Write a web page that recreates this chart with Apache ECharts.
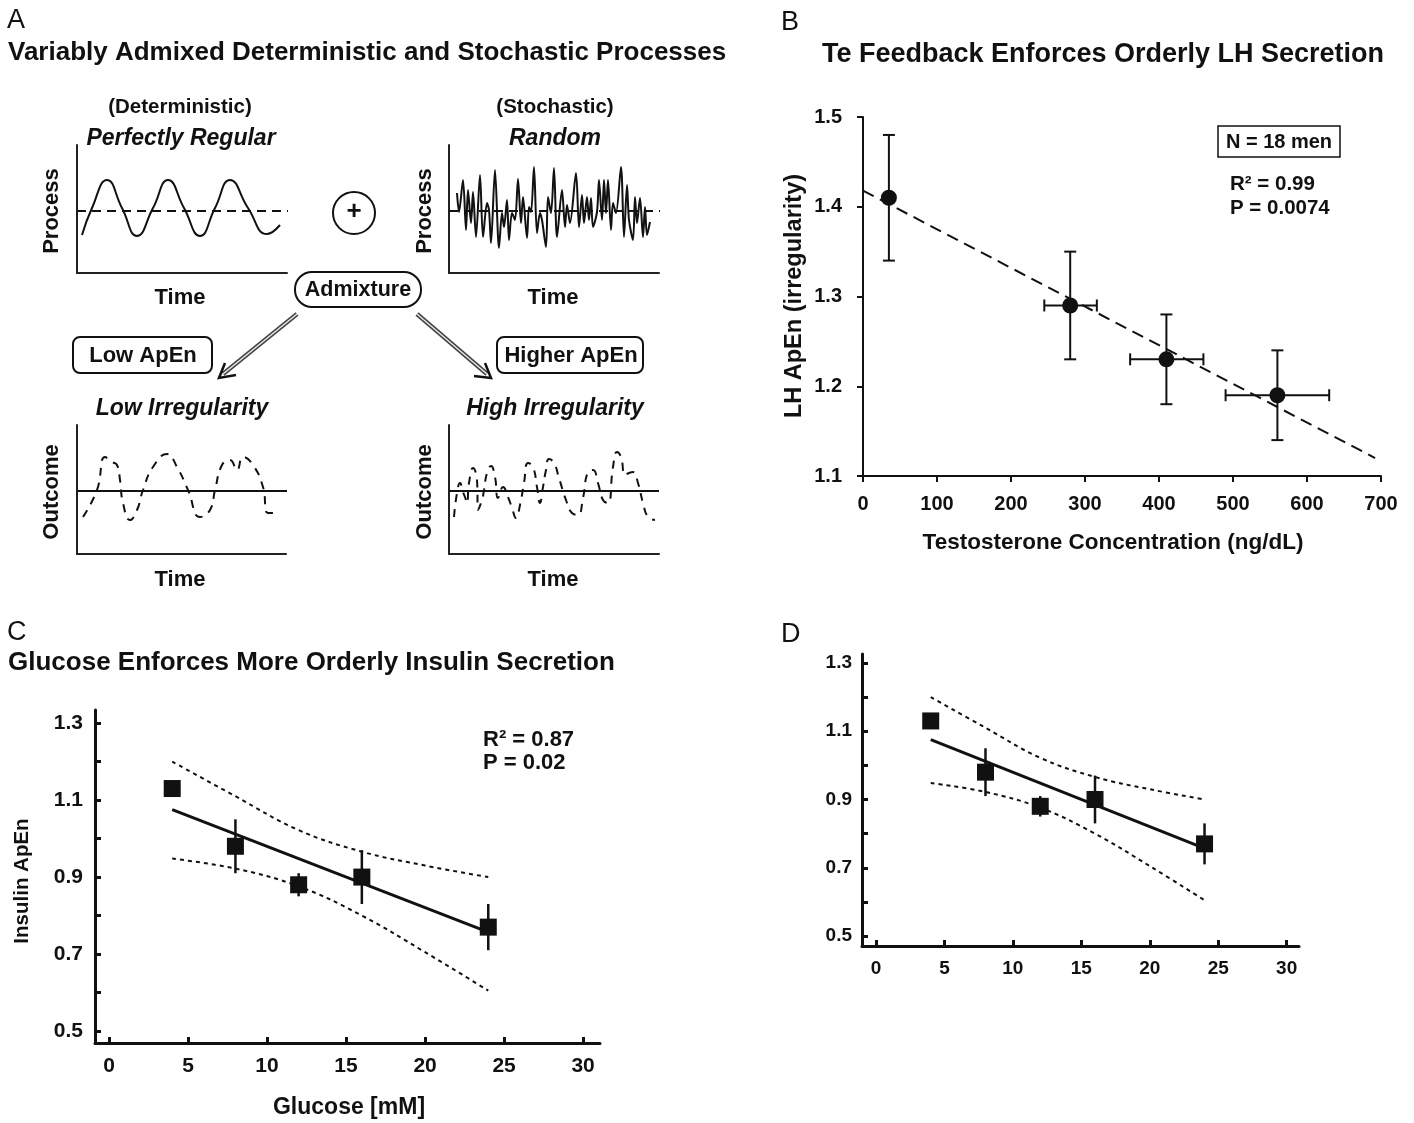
<!DOCTYPE html>
<html>
<head>
<meta charset="utf-8">
<title>ApEn figure</title>
<script src="https://cdn.jsdelivr.net/npm/echarts@6/dist/echarts.min.js"></script>
<style>
  html, body { margin: 0; padding: 0; background: #fff; }
  #chart { width: 1414px; height: 1123px; }
</style>
</head>
<body>
<div id="chart"></div>
<script>
// ---- panel A sketches (time / amplitude in arbitrary units)
var regularWave = [[5,38],[15,65],[30,93],[45,65],[60,37],[76,65],[91,93],[107,65],[123,37],[138,65],[153,93],[171,65],[190,39],[203,48]];
var regularMean = [[0,62],[216,62]];
var randomWave = [[8,80],[10,61],[14,93],[17,43],[19,83],[22,50],[24,81],[27,36],[31,98],[34,36],[38,70],[40,63],[42,30],[46,103],[50,25],[53,60],[55,46],[58,73],[60,33],[63,60],[66,53],[69,94],[72,50],[74,76],[78,35],[80,66],[82,61],[85,106],[88,40],[91,60],[93,53],[97,26],[99,76],[102,60],[105,105],[108,36],[113,83],[116,46],[118,68],[121,50],[127,100],[130,46],[133,78],[135,50],[138,76],[140,53],[142,75],[144,46],[148,61],[150,93],[153,53],[155,93],[157,60],[159,93],[162,43],[164,70],[167,60],[172,106],[175,36],[178,88],[180,53],[184,33],[186,76],[188,50],[191,75],[194,36],[196,66],[198,38],[201,51]];
var randomMean = [[0,62],[212,62]];
var lowIrregWave = [[6,37],[20,64],[28,97],[35,92],[40,89],[43,74],[46,51],[53,34],[60,44],[66,64],[76,87],[90,100],[100,87],[111,64],[123,37],[133,44],[138,64],[145,89],[153,94],[160,84],[166,97],[176,89],[186,67],[191,41],[200,41]];
var highIrregWave = [[5,37],[8,61],[11,71],[14,62],[16,57],[18,51],[20,71],[24,86],[28,74],[29,44],[33,54],[35,64],[38,81],[42,88],[46,77],[49,56],[54,67],[59,57],[63,46],[67,36],[71,49],[75,71],[79,91],[84,87],[88,67],[91,51],[94,67],[97,84],[100,95],[105,91],[110,76],[117,54],[123,41],[129,39],[134,56],[139,82],[144,84],[149,71],[154,54],[159,51],[164,87],[168,102],[172,97],[176,79],[180,81],[184,82],[189,71],[194,51],[199,37],[206,34]];
var outcomeMean = [[0,63],[210,63]];

// ---- panel B
var teConc = [35, 280, 410, 560];
var teLow = [35, 245, 361, 490];
var teHigh = [35, 316, 460, 630];
var lhApEn = [1.41, 1.29, 1.23, 1.19];
var lhLow = [1.34, 1.23, 1.18, 1.14];
var lhHigh = [1.48, 1.35, 1.28, 1.24];
var lhFit = [[0, 1.418], [692, 1.12]];
var bTicksX = [0, 100, 200, 300, 400, 500, 600, 700];
var bTicksY = [1.1, 1.2, 1.3, 1.4, 1.5];

// ---- panels C and D (same data)
var glucose = [4, 8, 12, 16, 24];
var insApEn = [1.13, 0.98, 0.88, 0.90, 0.77];
var insLow = [1.13, 0.91, 0.85, 0.83, 0.71];
var insHigh = [1.13, 1.05, 0.91, 0.97, 0.83];
var insFit = [[4, 1.075], [24, 0.757]];
var insUpper = [[4, 1.20], [8, 1.11], [12, 1.022], [16, 0.966], [20, 0.93], [24, 0.90]];
var insLower = [[4, 0.948], [8, 0.922], [12, 0.876], [16, 0.80], [20, 0.705], [24, 0.605]];
var gluTicks = [0, 5, 10, 15, 20, 25, 30];
var insTicks = [0.5, 0.6, 0.7, 0.8, 0.9, 1.0, 1.1, 1.2, 1.3];
var insLabels = [0.5, 0.7, 0.9, 1.1, 1.3];

var FONT = '"Liberation Sans", Arial, Helvetica, sans-serif';
var INK = '#111';

var myChart = echarts.init(document.getElementById('chart'));

function sketchGrid(l, t, w, h) {
    return { left: l, top: t, width: w, height: h, outerBoundsMode: 'none' };
}
function sketchAxis(i, max) {
    return {
        gridIndex: i, type: 'value', min: 0, max: max,
        axisLine: { show: true, onZero: false, lineStyle: { color: '#222', width: 2 } },
        axisTick: { show: false }, axisLabel: { show: false }, splitLine: { show: false }
    };
}
function plotAxis(i, min, max, tickVals, labelVals, inside, lineW, margin, dec, fs) {
    return {
        gridIndex: i, type: 'value', min: min, max: max,
        axisLine: { show: true, onZero: false, lineStyle: { color: INK, width: lineW } },
        axisTick: { show: true, inside: inside, length: 6, customValues: tickVals, lineStyle: { color: INK, width: lineW } },
        axisLabel: {
            show: true, customValues: labelVals, margin: margin,
            color: INK, fontFamily: FONT, fontWeight: 'bold', fontSize: fs,
            formatter: function (v) { return dec ? v.toFixed(dec) : String(v); }
        },
        splitLine: { show: false }
    };
}
function pairs(xs, ys) {
    var out = [];
    for (var i = 0; i < xs.length; i++) out.push([xs[i], ys[i]]);
    return out;
}
function errRows(xs, ys, yl, yh, xl, xh) {
    var out = [];
    for (var i = 0; i < xs.length; i++) {
        out.push([xs[i], ys[i], yl[i], yh[i], xl ? xl[i] : xs[i], xh ? xh[i] : xs[i]]);
    }
    return out;
}
function errorBars(i, rows, cap, lw) {
    return {
        type: 'custom', xAxisIndex: i, yAxisIndex: i, data: rows, silent: true,
        renderItem: function (params, api) {
            var x = api.value(0), y = api.value(1);
            var lo = api.coord([x, api.value(2)]);
            var hi = api.coord([x, api.value(3)]);
            var l = api.coord([api.value(4), y]);
            var r = api.coord([api.value(5), y]);
            var st = { stroke: INK, lineWidth: lw };
            var kids = [];
            if (lo[1] - hi[1] > 1) {
                kids.push({ type: 'line', shape: { x1: lo[0], y1: hi[1], x2: lo[0], y2: lo[1] }, style: st });
                if (cap) {
                    kids.push({ type: 'line', shape: { x1: lo[0] - cap, y1: hi[1], x2: lo[0] + cap, y2: hi[1] }, style: st });
                    kids.push({ type: 'line', shape: { x1: lo[0] - cap, y1: lo[1], x2: lo[0] + cap, y2: lo[1] }, style: st });
                }
            }
            if (r[0] - l[0] > 1) {
                kids.push({ type: 'line', shape: { x1: l[0], y1: l[1], x2: r[0], y2: l[1] }, style: st });
                if (cap) {
                    kids.push({ type: 'line', shape: { x1: l[0], y1: l[1] - cap, x2: l[0], y2: l[1] + cap }, style: st });
                    kids.push({ type: 'line', shape: { x1: r[0], y1: l[1] - cap, x2: r[0], y2: l[1] + cap }, style: st });
                }
            }
            return { type: 'group', children: kids };
        }
    };
}
function trace(i, data, type, smooth) {
    return {
        type: 'line', xAxisIndex: i, yAxisIndex: i, data: data, smooth: smooth,
        showSymbol: false, symbol: 'none', silent: true, clip: false,
        lineStyle: { color: INK, width: 2, type: type }
    };
}
function lineDash(i, data, width, dash, smooth) {
    return {
        type: 'line', xAxisIndex: i, yAxisIndex: i, data: data, smooth: smooth || false,
        showSymbol: false, symbol: 'none', silent: true,
        lineStyle: { color: INK, width: width, type: dash || 'solid' }
    };
}

function txt(text, x, y, size, opt) {
    opt = opt || {};
    return {
        type: 'text', x: x, y: y, rotation: opt.rot || 0, z: 100,
        style: {
            text: text, fill: INK,
            font: (opt.italic ? 'italic ' : '') + (opt.weight || 'bold') + ' ' + size + 'px ' + FONT,
            align: opt.align || 'center', verticalAlign: 'middle'
        }
    };
}

var graphics = [
    // panel letters and titles
    txt('A', 7, 21, 27, { weight: 'normal', align: 'left' }),
    txt('Variably Admixed Deterministic and Stochastic Processes', 8, 53, 26, { align: 'left' }),
    txt('B', 781, 23, 27, { weight: 'normal', align: 'left' }),
    txt('Te Feedback Enforces Orderly LH Secretion', 1103, 55, 27),
    txt('C', 7, 633, 27, { weight: 'normal', align: 'left' }),
    txt('Glucose Enforces More Orderly Insulin Secretion', 8, 663, 26, { align: 'left' }),
    txt('D', 781, 635, 27, { weight: 'normal', align: 'left' }),

    // panel A labels
    txt('(Deterministic)', 180, 107, 20.5),
    txt('Perfectly Regular', 181, 139, 23, { italic: true }),
    txt('(Stochastic)', 555, 107, 20.5),
    txt('Random', 555, 139, 23, { italic: true }),
    txt('Process', 52, 211, 22, { rot: Math.PI / 2 }),
    txt('Process', 425, 211, 22, { rot: Math.PI / 2 }),
    txt('Time', 180, 298, 22),
    txt('Time', 553, 298, 22),
    txt('Low Irregularity', 182, 409, 23, { italic: true }),
    txt('High Irregularity', 555, 409, 23, { italic: true }),
    txt('Outcome', 52, 492, 22, { rot: Math.PI / 2 }),
    txt('Outcome', 425, 492, 22, { rot: Math.PI / 2 }),
    txt('Time', 180, 580, 22),
    txt('Time', 553, 580, 22),

    // plus sign
    { type: 'circle', shape: { cx: 354, cy: 213, r: 21 }, style: { fill: '#fff', stroke: INK, lineWidth: 2 }, z: 90 },
    txt('+', 354, 212, 26),

    // admixture pill and ApEn boxes
    { type: 'rect', shape: { x: 295, y: 272, width: 126, height: 35, r: 17 }, style: { fill: '#fff', stroke: INK, lineWidth: 2 }, z: 90 },
    txt('Admixture', 358, 290, 21.5),
    { type: 'rect', shape: { x: 73, y: 337, width: 139, height: 36, r: 7 }, style: { fill: '#fff', stroke: INK, lineWidth: 2 }, z: 90 },
    txt('Low ApEn', 143, 356, 22),
    { type: 'rect', shape: { x: 497, y: 337, width: 146, height: 36, r: 7 }, style: { fill: '#fff', stroke: INK, lineWidth: 2 }, z: 90 },
    txt('Higher ApEn', 571, 356, 22),

    // arrows
    { type: 'line', shape: { x1: 297, y1: 314, x2: 223, y2: 374 }, style: { stroke: '#444', lineWidth: 4.5 }, z: 80 },
    { type: 'line', shape: { x1: 297, y1: 314, x2: 223, y2: 374 }, style: { stroke: '#e6e6e6', lineWidth: 1.5 }, z: 81 },
    { type: 'polyline', shape: { points: [[225, 363], [219, 378], [236, 375]] }, style: { stroke: INK, lineWidth: 2.5, fill: null }, z: 82 },
    { type: 'line', shape: { x1: 417, y1: 314, x2: 487, y2: 374 }, style: { stroke: '#444', lineWidth: 4.5 }, z: 80 },
    { type: 'line', shape: { x1: 417, y1: 314, x2: 487, y2: 374 }, style: { stroke: '#e6e6e6', lineWidth: 1.5 }, z: 81 },
    { type: 'polyline', shape: { points: [[485, 363], [491, 378], [474, 376]] }, style: { stroke: INK, lineWidth: 2.5, fill: null }, z: 82 },

    // panel B annotations
    { type: 'rect', shape: { x: 1218, y: 126, width: 122, height: 31 }, style: { fill: '#fff', stroke: INK, lineWidth: 1.5 }, z: 90 },
    txt('N = 18 men', 1279, 142, 20),
    txt('R\u00b2 = 0.99', 1230, 184, 20.5, { align: 'left' }),
    txt('P = 0.0074', 1230, 208, 20.5, { align: 'left' }),
    txt('LH ApEn (irregularity)', 795, 296, 23.5, { rot: Math.PI / 2 }),
    txt('Testosterone Concentration (ng/dL)', 1113, 543, 22.5),

    // panel C annotations
    txt('R\u00b2 = 0.87', 483, 740, 22, { align: 'left' }),
    txt('P = 0.02', 483, 763, 22, { align: 'left' }),
    txt('Insulin ApEn', 22, 881, 20.5, { rot: Math.PI / 2 }),
    txt('Glucose [mM]', 349, 1108, 23)
];

var option = {
    animation: false,
    backgroundColor: '#fff',
    textStyle: { fontFamily: FONT },
    grid: [
        sketchGrid(77, 145, 210, 128),
        sketchGrid(449, 145, 210, 128),
        sketchGrid(77, 425, 209, 129),
        sketchGrid(449, 425, 210, 129),
        { left: 863, top: 117, width: 518, height: 359, outerBoundsMode: 'none' },
        { left: 95, top: 710, width: 505, height: 333, outerBoundsMode: 'none' },
        { left: 862, top: 654, width: 437, height: 292, outerBoundsMode: 'none' }
    ],
    xAxis: [
        sketchAxis(0, 210), sketchAxis(1, 210), sketchAxis(2, 209), sketchAxis(3, 210),
        plotAxis(4, 0, 700, bTicksX, bTicksX, false, 2, 18, 0, 20),
        plotAxis(5, -0.886, 31.07, gluTicks, gluTicks, true, 3, 13, 0, 21),
        plotAxis(6, -1.02, 30.9, gluTicks, gluTicks, true, 3, 13, 0, 19)
    ],
    yAxis: [
        sketchAxis(0, 128), sketchAxis(1, 128), sketchAxis(2, 129), sketchAxis(3, 129),
        plotAxis(4, 1.1, 1.5, bTicksY, bTicksY, false, 2, 21, 1, 20),
        plotAxis(5, 0.469, 1.334, insTicks, insLabels, true, 3, 12, 1, 21),
        plotAxis(6, 0.471, 1.326, insTicks, insLabels, true, 3, 10, 1, 19)
    ],
    graphic: { elements: graphics },
    series: [
        // A sketches
        trace(0, regularWave, 'solid', 0.5),
        trace(0, regularMean, [9, 6], false),
        trace(1, randomWave, 'solid', 0.3),
        trace(1, randomMean, [9, 6], false),
        trace(2, lowIrregWave, [8, 7], 0.5),
        trace(2, outcomeMean, 'solid', false),
        trace(3, highIrregWave, [8, 7], 0.5),
        trace(3, outcomeMean, 'solid', false),

        // B
        lineDash(4, lhFit, 2, [12, 7]),
        errorBars(4, errRows(teConc, lhApEn, lhLow, lhHigh, teLow, teHigh), 6, 2),
        {
            type: 'scatter', xAxisIndex: 4, yAxisIndex: 4, data: pairs(teConc, lhApEn),
            symbol: 'circle', symbolSize: 16, itemStyle: { color: INK, opacity: 1 }, silent: true
        },

        // C
        lineDash(5, insUpper, 2, [4, 4], 0.4),
        lineDash(5, insLower, 2, [4, 4], 0.4),
        lineDash(5, insFit, 3),
        errorBars(5, errRows(glucose, insApEn, insLow, insHigh), 0, 2.5),
        {
            type: 'scatter', xAxisIndex: 5, yAxisIndex: 5, data: pairs(glucose, insApEn),
            symbol: 'rect', symbolSize: 17, itemStyle: { color: INK, opacity: 1 }, silent: true
        },

        // D
        lineDash(6, insUpper, 2, [4, 4], 0.4),
        lineDash(6, insLower, 2, [4, 4], 0.4),
        lineDash(6, insFit, 3),
        errorBars(6, errRows(glucose, insApEn, insLow, insHigh), 0, 2.5),
        {
            type: 'scatter', xAxisIndex: 6, yAxisIndex: 6, data: pairs(glucose, insApEn),
            symbol: 'rect', symbolSize: 17, itemStyle: { color: INK, opacity: 1 }, silent: true
        }
    ]
};

if (option && typeof option === 'object') {
    myChart.setOption(option, true);
}
</script>
</body>
</html>
